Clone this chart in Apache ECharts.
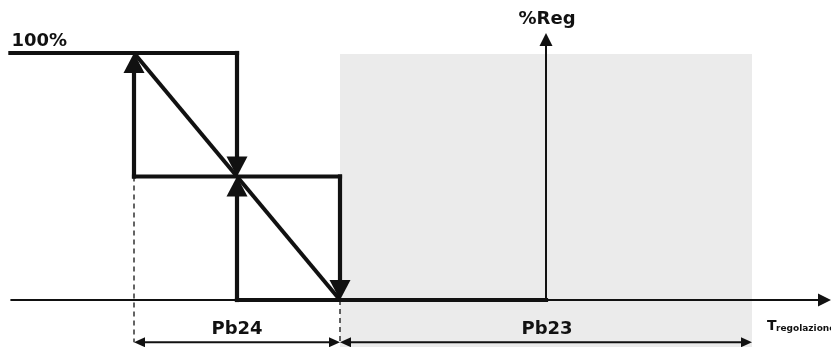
<!DOCTYPE html>
<html><head><meta charset="utf-8">
<script src="https://cdn.jsdelivr.net/npm/echarts@6/dist/echarts.min.js"></script>
<style>html,body{margin:0;padding:0;background:#fff}#c{width:831px;height:347px}</style>
</head><body><div id="c"></div>
<script>
// Diagram units: x = temperature (Pb24 = 2 units, setpoint at x = 2), y = %Reg
const xRange = [-3.301, 4.767];
const yRange = [-19.03, 121.46];
// [x1, y1, x2, y2, arrowAtStart, arrowAtEnd]
const shadedBand = [[0, 99.6, 4, -19.03]];
const thinAxes = [[-3.2, 0, 4.767, 0, 0, 1], [2, 0, 2, 108.1, 0, 1]];
const stepSegments = [
  [-3.2, 100, -1, 100, 0, 0],
  [-1, 100, -1, 50, 0, 1],
  [-2, 50, -2, 100, 0, 1],
  [-2, 50, 0, 50, 0, 0],
  [0, 50, 0, 0, 0, 1],
  [-1, 0, -1, 50, 0, 1],
  [-1, 0, 2, 0, 0, 0]
];
const diagonals = [[-2, 100, -1, 50, 0, 0], [-1, 50, 0, 0, 0, 0]];
const dashedGuides = [[-2, 50, -2, -17.1, 0, 0], [0, 0, 0, -17.1, 0, 0]];
const dimensions = [[-2, -17.1, 0, -17.1, 1, 1], [0, -17.1, 4, -17.1, 1, 1]];
const labelTexts = ['100%', '%Reg', 'Pb24', 'Pb23', 'T', 'regolazione'];
const labelAnchors = [[-3.19, 104.9], [2.01, 113.6], [-1, -11.9], [2.01, -11.9], [4.146, -10.7], [4.233, -11.6]];

const labelStyle = [
  {size: 18, align: 'left'}, {size: 18, align: 'center'}, {size: 18, align: 'center'},
  {size: 18, align: 'center'}, {size: 14, align: 'left'}, {size: 9, align: 'left'}
];
const INK = '#111111';

function segRenderer(opt) {
  return function (params, api) {
    const a = api.coord([api.value(0), api.value(1)]);
    const b = api.coord([api.value(2), api.value(3)]);
    const sA = api.value(4), eA = api.value(5);
    let dx = b[0] - a[0], dy = b[1] - a[1];
    const L = Math.hypot(dx, dy); dx /= L; dy /= L;
    const nx = -dy, ny = dx;
    let a2 = a.slice(), b2 = b.slice();
    const children = [];
    function head(tip, ux, uy) {
      const bx = tip[0] - ux * opt.len, by = tip[1] - uy * opt.len;
      children.push({type: 'polygon', shape: {points: [[tip[0], tip[1]], [bx + nx * opt.w / 2, by + ny * opt.w / 2], [bx - nx * opt.w / 2, by - ny * opt.w / 2]]}, style: {fill: opt.color}});
    }
    if (eA) { head(b, dx, dy); b2 = [b[0] - dx * opt.len * 0.6, b[1] - dy * opt.len * 0.6]; }
    if (sA) { head(a, -dx, -dy); a2 = [a[0] + dx * opt.len * 0.6, a[1] + dy * opt.len * 0.6]; }
    children.unshift({type: 'line', shape: {x1: a2[0], y1: a2[1], x2: b2[0], y2: b2[1]},
      style: {stroke: opt.color, lineWidth: opt.lw, lineDash: opt.dash || null, lineCap: opt.cap || 'butt'}});
    return {type: 'group', children};
  };
}
function segSeries(data, opt, z) {
  return {type: 'custom', data, z, clip: false, silent: true, encode: {x: [0, 2], y: [1, 3]}, renderItem: segRenderer(opt)};
}

const chart = echarts.init(document.getElementById('c'), null, {renderer: 'canvas'});
chart.setOption({
  animation: false,
  backgroundColor: '#ffffff',
  grid: {left: 0, right: 0, top: 0, bottom: 0},
  xAxis: {type: 'value', min: xRange[0], max: xRange[1], show: false},
  yAxis: {type: 'value', min: yRange[0], max: yRange[1], show: false},
  series: [
    {type: 'custom', data: shadedBand, z: 1, silent: true, encode: {x: [0, 2], y: [1, 3]},
      renderItem: function (params, api) {
        const p1 = api.coord([api.value(0), api.value(1)]);
        const p2 = api.coord([api.value(2), api.value(3)]);
        return {type: 'rect', shape: {x: p1[0], y: p1[1], width: p2[0] - p1[0], height: p2[1] - p1[1]}, style: {fill: '#ebebeb'}};
      }},
    segSeries(dashedGuides, {color: INK, lw: 1.3, dash: [5, 4], len: 0, w: 0}, 2),
    segSeries(thinAxes, {color: INK, lw: 2, len: 13, w: 13}, 3),
    segSeries(dimensions, {color: INK, lw: 2, len: 11, w: 10}, 3),
    segSeries(diagonals, {color: INK, lw: 4, len: 20, w: 21}, 4),
    segSeries(stepSegments, {color: INK, lw: 4.2, len: 20, w: 21, cap: 'square'}, 5),
    {type: 'custom', data: labelAnchors, z: 6, silent: true, clip: false, encode: {x: 0, y: 1},
      renderItem: function (params, api) {
        const p = api.coord([api.value(0), api.value(1)]);
        const st = labelStyle[params.dataIndex];
        return {type: 'text', x: p[0], y: p[1], style: {text: labelTexts[params.dataIndex], fontSize: st.size, fontWeight: 'bold',
          fontFamily: 'DejaVu Sans', fill: INK, align: st.align, verticalAlign: 'middle'}};
      }}
  ]
});
</script></body></html>
